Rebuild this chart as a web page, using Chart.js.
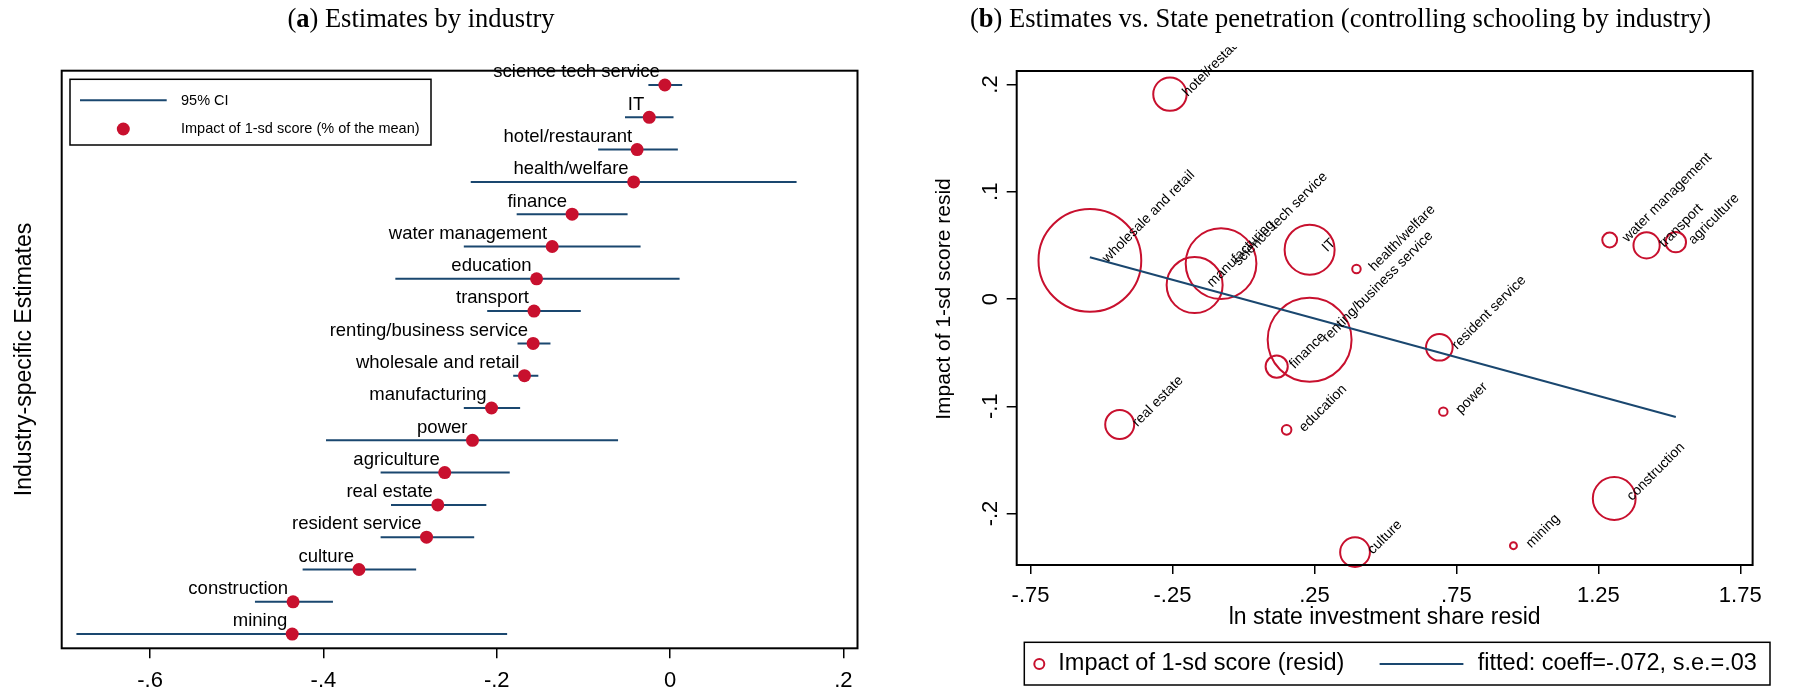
<!DOCTYPE html>
<html lang="en"><head>
<title>Industry estimates</title>
<meta name="viewport" content="width=device-width, initial-scale=1.0">
<meta charset="utf-8">
<style type="text/css">
body { margin:0; background:#ffffff; }
#wrap { position:relative; width:1806px; height:688px; }
canvas { position:absolute; top:0; }
</style>
<script src="https://cdn.jsdelivr.net/npm/chart.js"></script>
<script>
// (a) estimates by industry, listed top to bottom
industries=["science tech service","IT","hotel/restaurant","health/welfare","finance","water management",
  "education","transport","renting/business service","wholesale and retail","manufacturing","power",
  "agriculture","real estate","resident service","culture","construction","mining"];
estimate=[-0.006,-0.024,-0.038,-0.042,-0.113,-0.136,-0.154,-0.157,-0.158,-0.168,-0.206,-0.228,
  -0.260,-0.268,-0.281,-0.359,-0.435,-0.436];
ciLow=[-0.025,-0.052,-0.083,-0.230,-0.177,-0.238,-0.317,-0.211,-0.176,-0.181,-0.238,-0.397,
  -0.334,-0.322,-0.334,-0.424,-0.479,-0.685];
ciHigh=[0.014,0.004,0.009,0.146,-0.049,-0.034,0.011,-0.103,-0.138,-0.152,-0.173,-0.060,
  -0.185,-0.212,-0.226,-0.293,-0.389,-0.188];
xTicksA=[-0.6,-0.4,-0.2,0,0.2];

// (b) estimates vs state penetration, marker weight = industry weight
sectorsB=["hotel/restaurant","wholesale and retail","manufacturing","science tech service","IT",
  "health/welfare","water management","transport","agriculture","renting/business service","finance",
  "real estate","education","power","resident service","construction","culture","mining"];
stateShare=[-0.259,-0.541,-0.172,-0.079,0.233,0.398,1.290,1.420,1.523,0.233,0.117,
  -0.436,0.152,0.704,0.690,1.306,0.393,0.951];
impactResid=[0.191,0.036,0.013,0.033,0.046,0.028,0.055,0.050,0.053,-0.038,-0.063,
  -0.117,-0.122,-0.105,-0.045,-0.186,-0.236,-0.230];
weightB=[27.9,264,78.4,125,62.5,1.8,5.5,17.2,10.4,176,12.3,21,2.3,1.8,17.7,45.8,22.2,1.2];
fitX=[-0.541,1.523];
fitY=[0.039,-0.110];
xTicksB=[-0.75,-0.25,0.25,0.75,1.25,1.75];
yTicksB=[-0.2,-0.1,0,0.1,0.2];

red='#c8102e'; navy='#1a476f';
sans='"Liberation Sans", Arial, sans-serif';
serif='"Liberation Serif", "Times New Roman", serif';

function fmt(v) { s=String(Math.round(v*1000)/1000); return s.replace(/^(-?)0\./,'$1.'); }

framePlugin={id:'frame',afterDraw(c) { a=c.chartArea; x=c.ctx;
  x.save(); x.strokeStyle='#000'; x.lineWidth=2;
  x.strokeRect(a.left,a.top,a.right-a.left,a.bottom-a.top); x.restore(); }};

function titlePlugin(letter,text,cx) {
  return {id:'ptitle',afterDraw(c) { x=c.ctx; n='26.5px '+serif; b='bold 26.5px '+serif;
    x.save(); x.fillStyle='#000'; x.textBaseline='alphabetic';
    x.font=n; w1=x.measureText('(').width; w3=x.measureText(') '+text).width;
    x.font=b; w2=x.measureText(letter).width;
    px=cx-(w1+w2+w3)/2;
    x.font=n; x.fillText('(',px,27.3); px+=w1;
    x.font=b; x.fillText(letter,px,27.3); px+=w2;
    x.font=n; x.fillText(') '+text,px,27.3); x.restore(); }}; }

labelsA={id:'labelsA',afterDatasetsDraw(c) { m=c.getDatasetMeta(1); x=c.ctx;
  x.save(); x.font='18.5px '+sans; x.fillStyle='#000'; x.textAlign='right'; x.textBaseline='alphabetic';
  m.data.forEach((p,i)=>x.fillText(industries[i],p.x-5,p.y-7.7)); x.restore(); }};

legendA={id:'legendA',afterDraw(c) { x=c.ctx; d=c.data.datasets;
  x.save(); x.fillStyle='#fff'; x.fillRect(70,79.3,361,65.7);
  x.strokeStyle='#000'; x.lineWidth=1.5; x.strokeRect(70,79.3,361,65.7);
  x.strokeStyle=d[0].borderColor; x.lineWidth=d[0].borderWidth;
  x.beginPath(); x.moveTo(80,100.3); x.lineTo(166.7,100.3); x.stroke();
  x.fillStyle=d[1].backgroundColor; x.beginPath(); x.arc(123.3,129,d[1].pointRadius,0,2*Math.PI); x.fill();
  x.fillStyle='#000'; x.font='14.5px '+sans; x.textBaseline='middle';
  x.fillText(d[0].label,181,101); x.fillText(d[1].label,181,129); x.restore(); }};

labelsB={id:'labelsB',afterDatasetsDraw(c) { m=c.getDatasetMeta(0); x=c.ctx;
  x.save(); x.beginPath(); x.rect(0,47,c.width,c.height); x.clip();
  x.font='14px '+sans; x.fillStyle='#000'; x.textBaseline='middle'; x.textAlign='left';
  m.data.forEach((p,i)=>{ x.save(); x.translate(p.x+15,p.y); x.rotate(-Math.PI/4);
    x.fillText(sectorsB[i],0,0); x.restore(); });
  x.restore(); }};

yTitleB={id:'yTitleB',afterDraw(c) { x=c.ctx;
  x.save(); x.translate(44.3,299); x.rotate(-Math.PI/2); x.font='21px '+sans; x.fillStyle='#000';
  x.textAlign='center'; x.textBaseline='middle'; x.fillText('Impact of 1-sd score resid',0,0); x.restore(); }};

legendB={id:'legendB',afterDraw(c) { x=c.ctx; d=c.data.datasets;
  x.save(); x.strokeStyle='#000'; x.lineWidth=1.5; x.strokeRect(124.3,642.3,745.7,42.7);
  x.strokeStyle=d[0].borderColor; x.lineWidth=d[0].borderWidth;
  x.beginPath(); x.arc(139.3,664,5,0,2*Math.PI); x.stroke();
  x.strokeStyle=d[1].borderColor; x.lineWidth=d[1].borderWidth;
  x.beginPath(); x.moveTo(479.6,664); x.lineTo(563.4,664); x.stroke();
  x.fillStyle='#000'; x.font='23.5px '+sans; x.textBaseline='middle';
  x.fillText(d[0].label,158.3,664); x.fillText(d[1].label,577.8,664); x.restore(); }};

function initCharts() {
  Chart.defaults.font.family=sans; Chart.defaults.color='#000';

  ciData=[];
  for (i=0;i<industries.length;i++) {
    ciData.push({x:ciLow[i],y:i},{x:ciHigh[i],y:i},{x:ciHigh[i],y:null}); }
  ptData=estimate.map((v,i)=>({x:v,y:i}));

  new Chart(document.getElementById('chartA'),{type:'scatter',
    data:{datasets:[
      {label:'95% CI',data:ciData,showLine:true,spanGaps:false,borderColor:navy,borderWidth:2,
       pointRadius:0,order:2},
      {label:'Impact of 1-sd score (% of the mean)',data:ptData,backgroundColor:red,borderColor:red,
       borderWidth:0,pointRadius:6.5,pointHoverRadius:6.5,order:1}]},
    options:{responsive:false,animation:false,events:[],
      layout:{padding:{top:70.7,right:42.5,left:0,bottom:0}},
      plugins:{legend:{display:false},tooltip:{enabled:false}},
      scales:{
        x:{type:'linear',min:-0.702,max:0.2163,
          afterFit:s=>{s.height=39.7;},
          afterBuildTicks:s=>{s.ticks=xTicksA.map(v=>({value:v}));},
          border:{display:false},
          grid:{drawOnChartArea:false,color:'#000',lineWidth:1.5,tickLength:10},
          ticks:{font:{size:22},padding:9,maxRotation:0,autoSkip:false,callback:fmt}},
        y:{type:'linear',reverse:true,min:-0.443,max:17.44,
          afterFit:s=>{s.width=61.7;},
          border:{display:false},grid:{display:false},ticks:{display:false},
          title:{display:true,text:'Industry-specific Estimates',font:{size:23},padding:{top:11.2,bottom:0}}}}},
    plugins:[labelsA,framePlugin,legendA,titlePlugin('a','Estimates by industry',421)]});

  bubData=sectorsB.map((s,i)=>({x:stateShare[i],y:impactResid[i],r:Math.sqrt(weightB[i]*10)}));
  fitData=fitX.map((v,i)=>({x:v,y:fitY[i]}));

  new Chart(document.getElementById('chartB'),{type:'bubble',
    data:{datasets:[
      {label:'Impact of 1-sd score (resid)',data:bubData,backgroundColor:'rgba(0,0,0,0)',
       borderColor:red,borderWidth:2,clip:false,order:2},
      {type:'line',label:'fitted: coeff=-.072, s.e.=.03',data:fitData,borderColor:navy,borderWidth:2,
       pointRadius:0,fill:false,order:1}]},
    options:{responsive:false,animation:false,events:[],
      layout:{padding:{top:71,right:29,left:0,bottom:0}},
      plugins:{legend:{display:false},tooltip:{enabled:false}},
      scales:{
        x:{type:'linear',min:-0.7988,max:1.7935,
          afterFit:s=>{s.height=123;},
          afterBuildTicks:s=>{s.ticks=xTicksB.map(v=>({value:v}));},
          border:{display:false},
          grid:{drawOnChartArea:false,color:'#000',lineWidth:1.5,tickLength:9},
          ticks:{font:{size:22},padding:8.7,maxRotation:0,autoSkip:false,callback:fmt},
          title:{display:true,text:'ln state investment share resid',font:{size:23},padding:{top:0,bottom:56.9}}},
        y:{type:'linear',min:-0.248,max:0.2126,
          afterFit:s=>{s.width=116.7;},
          afterBuildTicks:s=>{s.ticks=yTicksB.map(v=>({value:v}));},
          border:{display:false},
          grid:{drawOnChartArea:false,color:'#000',lineWidth:1.5,tickLength:10},
          ticks:{font:{size:22},padding:3,minRotation:90,maxRotation:90,crossAlign:'center',
            autoSkip:false,callback:fmt}}}},
    plugins:[labelsB,framePlugin,yTitleB,legendB,titlePlugin('b','Estimates vs. State penetration (controlling schooling by industry)',440.5)]}); }
</script></head>
<body onload="initCharts();">
<div id="wrap">
  <canvas id="chartA" width="900" height="688" style="left:0px;"></canvas>
  <canvas id="chartB" width="906" height="688" style="left:900px;"></canvas>
</div>
</body></html>
